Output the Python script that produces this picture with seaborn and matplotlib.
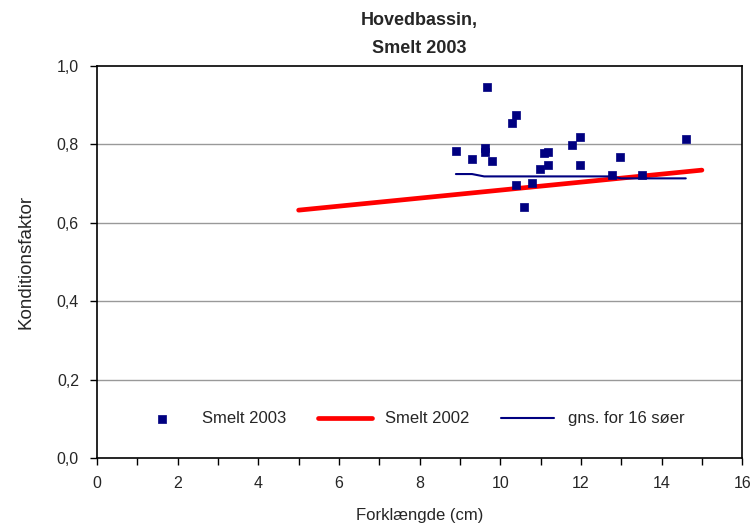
import numpy as np
import pandas as pd
import matplotlib
matplotlib.use("Agg")
import matplotlib.pyplot as plt
from matplotlib.ticker import MultipleLocator, FuncFormatter
import seaborn as sns

# Smelt 2003 - measured fish
length_2003 = [8.89, 9.29, 9.61, 9.61, 9.68, 9.79, 10.29, 10.39, 10.39, 10.58, 10.78,
               10.98, 11.08, 11.18, 11.18, 11.78, 11.98, 11.98, 12.77, 12.97, 13.52, 14.61]
kf_2003 = [0.783, 0.763, 0.791, 0.781, 0.946, 0.758, 0.855, 0.875, 0.696, 0.640, 0.702,
           0.737, 0.778, 0.781, 0.747, 0.798, 0.819, 0.747, 0.722, 0.768, 0.722, 0.814]

# Smelt 2002 - fitted line
length_2002 = [5.0, 15.0]
kf_2002 = [0.632, 0.734]

# average for 16 lakes
length_avg = [8.9, 9.3, 9.6, 12.75, 13.0, 14.6]
kf_avg = [0.724, 0.724, 0.718, 0.718, 0.713, 0.713]

sns.set_style("white")
plt.rcParams['font.family'] = ['Liberation Sans', 'DejaVu Sans']

df03 = pd.DataFrame({"x": length_2003, "y": kf_2003})
df02 = pd.DataFrame({"x": length_2002, "y": kf_2002})
dfavg = pd.DataFrame({"x": length_avg, "y": kf_avg})

fig = plt.figure(figsize=(7.52, 5.26), dpi=100)
ax = fig.add_axes([0.129, 0.129, 0.858, 0.746])

sns.lineplot(data=df02, x="x", y="y", ax=ax, color="#ff0000", linewidth=3.4,
             label="Smelt 2002", zorder=2)
sns.lineplot(data=dfavg, x="x", y="y", ax=ax, color="#000080", linewidth=1.5,
             label="gns. for 16 søer", zorder=3)
sns.scatterplot(data=df03, x="x", y="y", ax=ax, color="#000080", marker="s", s=36,
                edgecolor="#000080", linewidth=0.5, label="Smelt 2003", zorder=4)

ax.set_xlim(0, 16)
ax.set_ylim(0, 1.0)
ax.xaxis.set_major_locator(MultipleLocator(2))
ax.xaxis.set_minor_locator(MultipleLocator(1))
ax.yaxis.set_major_locator(MultipleLocator(0.2))
ax.yaxis.set_major_formatter(FuncFormatter(lambda v, p: f"{v:.1f}".replace(".", ",")))
ax.xaxis.set_major_formatter(FuncFormatter(lambda v, p: f"{v:.0f}"))

ax.tick_params(axis="both", which="major", direction="out", length=5, width=1,
               labelsize=11.5, color="black", bottom=True, left=True)
ax.tick_params(axis="x", which="minor", direction="out", length=5, width=1,
               color="black", bottom=True)
ax.tick_params(axis="x", pad=8)
ax.tick_params(axis="y", pad=8)

for y in [0.2, 0.4, 0.6, 0.8]:
    ax.axhline(y, color="#999999", linewidth=1, zorder=0)

for sp in ax.spines.values():
    sp.set_color("black")
    sp.set_linewidth(1.2)

ax.set_xlabel("Forklængde (cm)", fontsize=12, labelpad=12)
ax.set_ylabel("Konditionsfaktor", fontsize=13.5, labelpad=16)
ax.set_title("Hovedbassin,\nSmelt 2003", fontsize=13, fontweight="bold", pad=9,
             linespacing=1.9)

handles, labels = ax.get_legend_handles_labels()
order = [labels.index("Smelt 2003"), labels.index("Smelt 2002"),
         labels.index("gns. for 16 søer")]
ax.legend([handles[i] for i in order], [labels[i] for i in order],
          loc="center", bbox_to_anchor=(0.485, 0.1), ncol=3, frameon=False,
          fontsize=12, columnspacing=1.9, handlelength=3.2, handletextpad=0.8)

fig.savefig("out.png", dpi=100)
